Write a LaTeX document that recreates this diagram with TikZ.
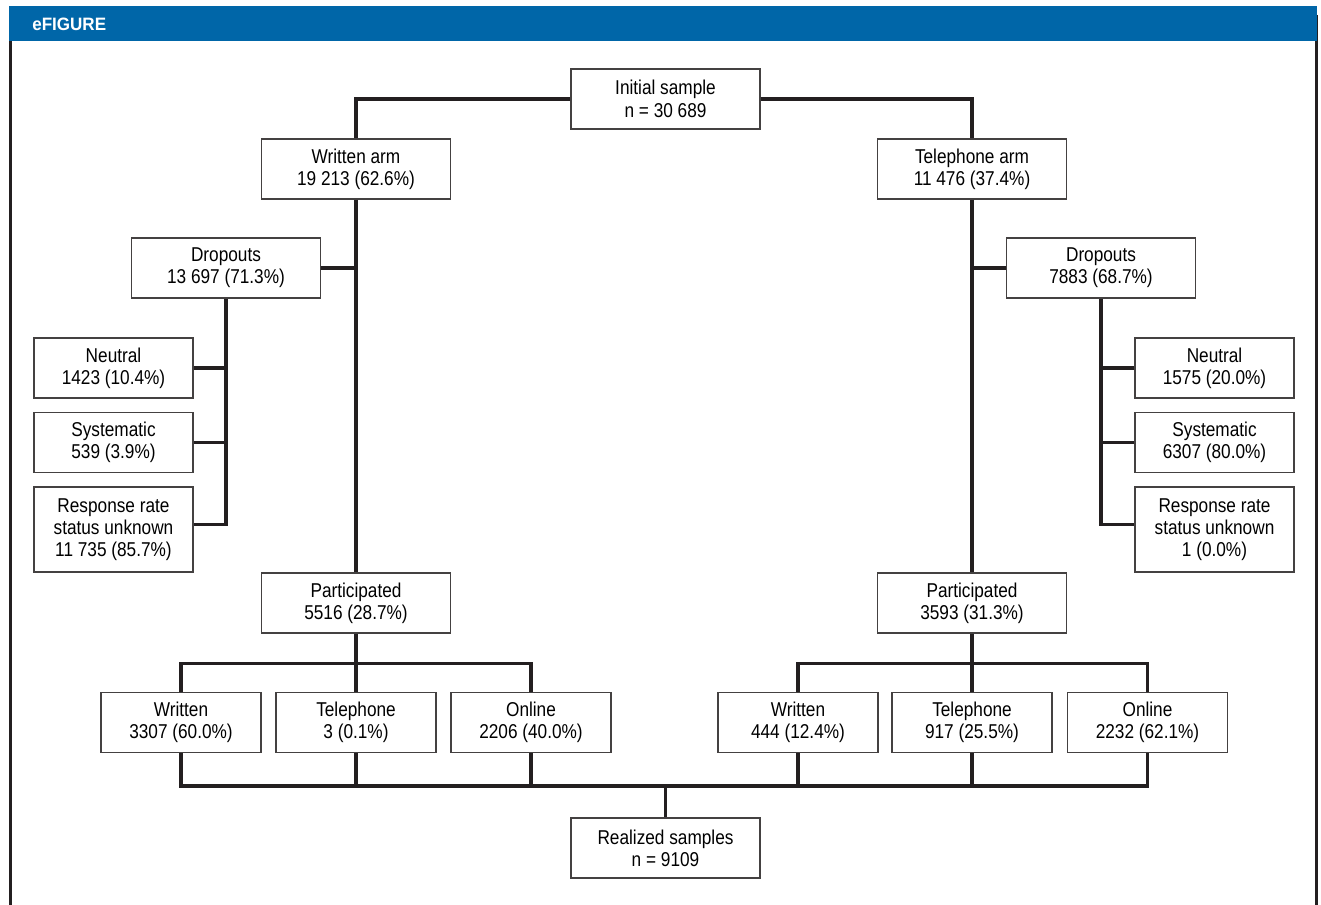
\documentclass[tikz,border=0pt]{standalone}
\usepackage{fontspec}
\setmainfont{Liberation Sans}[FakeStretch=0.86]
\newfontfamily\headfont{Liberation Sans}[FakeStretch=0.95]
\usepackage{xcolor}
\usetikzlibrary{positioning,calc}
\definecolor{headblue}{RGB}{0,102,168}
\definecolor{inkblack}{RGB}{35,31,32}

\begin{document}
\begin{tikzpicture}[x=0.02cm, y=-0.02cm,
    box/.style={draw=inkblack!85, line width=0.7pt, fill=white, align=center, inner sep=0pt,
        font=\fontsize{11.4}{12.7}\selectfont},
    mainbox/.style={box, minimum width=3.78cm, minimum height=1.2cm},
    sidebox/.style={box, minimum width=3.18cm, minimum height=1.2cm},
    modebox/.style={box, minimum width=3.2cm, minimum height=1.2cm},
    link/.style={line width=1.9pt, inkblack}]
        \useasboundingbox (0,0) rectangle (1321,905);

        % Frame and header
        \draw[line width=1.4pt, inkblack] (10.3,41) -- (10.3,905);
        \draw[line width=1.4pt, inkblack] (1316.3,15) -- (1316.3,905);
        \fill[headblue] (9,6) rectangle (1317,41);
        \node[anchor=base west, inner sep=0pt, text=white, font=\headfont\bfseries\fontsize{10.2}{11}\selectfont] (title) at (32,30.5) {eFIGURE};

        % Sample and arms
        \node[mainbox] (init) at (665.5,99) {Initial sample\\n = 30 689};
        \node[mainbox] (warm) at (356,169) {Written arm\\19 213 (62.6\%)};
        \node[mainbox] (tarm) at (972,169) {Telephone arm\\11 476 (37.4\%)};

        % Dropouts
        \node[mainbox] (wdrop) at (226,268) {Dropouts\\13 697 (71.3\%)};
        \node[mainbox] (tdrop) at (1101,268) {Dropouts\\7883 (68.7\%)};
        \node[sidebox] (wneu) at (113.5,368) {Neutral\\1423 (10.4\%)};
        \node[sidebox] (wsys) at (113.5,442.5) {Systematic\\539 (3.9\%)};
        \node[sidebox, minimum height=1.7cm] (wunk) at (113.5,529.5) {Response rate\\status unknown\\11 735 (85.7\%)};
        \node[sidebox] (tneu) at (1214.5,368) {Neutral\\1575 (20.0\%)};
        \node[sidebox] (tsys) at (1214.5,442.5) {Systematic\\6307 (80.0\%)};
        \node[sidebox, minimum height=1.7cm] (tunk) at (1214.5,529.5) {Response rate\\status unknown\\1 (0.0\%)};

        % Participants by mode
        \node[mainbox] (wpart) at (356,603) {Participated\\5516 (28.7\%)};
        \node[mainbox] (tpart) at (972,603) {Participated\\3593 (31.3\%)};
        \node[modebox] (wwri) at (181,722.5) {Written\\3307 (60.0\%)};
        \node[modebox] (wtel) at (356,722.5) {Telephone\\3 (0.1\%)};
        \node[modebox] (wonl) at (531,722.5) {Online\\2206 (40.0\%)};
        \node[modebox] (twri) at (798,722.5) {Written\\444 (12.4\%)};
        \node[modebox] (ttel) at (972,722.5) {Telephone\\917 (25.5\%)};
        \node[modebox] (tonl) at (1147.5,722.5) {Online\\2232 (62.1\%)};
        \node[mainbox] (real) at (665.5,848) {Realized samples\\n = 9109};

        % Connectors
        \draw[link] (init.west) -| (warm.north);
        \draw[link] (init.east) -| (tarm.north);
        \draw[link] (warm.south) -- (wpart.north);
        \draw[link] (tarm.south) -- (tpart.north);
        \draw[link] (wdrop.east) -- (wdrop.east -| warm.south);
        \draw[link] (tdrop.west) -- (tdrop.west -| tarm.south);

        \draw[link] (wdrop.south) |- ([yshift=1mm]wunk.east);
        \draw[link] (wneu.east) -- (wneu.east -| wdrop.south);
        \draw[link] (wsys.east) -- (wsys.east -| wdrop.south);
        \draw[link] (tdrop.south) |- ([yshift=1mm]tunk.west);
        \draw[link] (tneu.west) -- (tneu.west -| tdrop.south);
        \draw[link] (tsys.west) -- (tsys.west -| tdrop.south);

        \coordinate (wbar) at (356,663.5);
        \coordinate (tbar) at (972,663.5);
        \draw[link] (wwri.north) |- (wbar) -| (wonl.north);
        \draw[link] (wpart.south) -- (wtel.north);
        \draw[link] (twri.north) |- (tbar) -| (tonl.north);
        \draw[link] (tpart.south) -- (ttel.north);

        \coordinate (rbar) at (665.5,786);
        \draw[link] (wwri.south) |- (rbar) -| (tonl.south);
        \foreach \m in {wtel,wonl,twri,ttel}
            \draw[link] (\m.south) -- (\m.south |- rbar);
        \draw[link] (rbar) -- (real.north);
    \end{tikzpicture}
\end{document}
